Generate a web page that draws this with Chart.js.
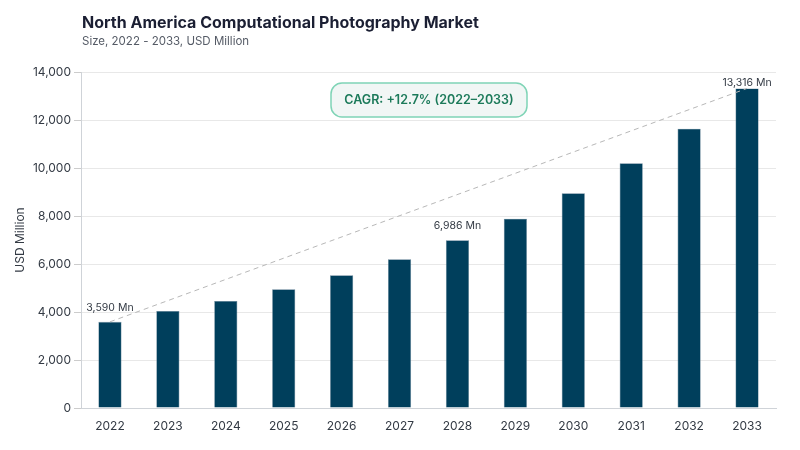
<!DOCTYPE html>
<html>
<head>
<meta charset="utf-8">
<script src="https://cdn.jsdelivr.net/npm/chart.js@4.4.1/dist/chart.umd.min.js"></script>
<style>
html,body{margin:0;padding:0;background:#fff;}
#wrap{position:relative;width:800px;height:450px;}
</style>
</head>
<body>
<div id="wrap"><canvas id="c" width="800" height="450"></canvas></div>
<script>
const titleText = "North America Computational Photography Market";
const subtitleText = "Size, 2022 - 2033, USD Million";
const years = ["2022","2023","2024","2025","2026","2027","2028","2029","2030","2031","2032","2033"];
const marketSize = [3590, 4046, 4458, 4944, 5528, 6194, 6986, 7889, 8944, 10194, 11639, 13316];
const labelledYears = ["2022","2028","2033"];
const trendStartEnd = [3590, 13316];
const cagrText = "CAGR: +12.7% (2022\u20132033)";
const yTicks = [0, 2000, 4000, 6000, 8000, 10000, 12000, 14000];
const yAxisTitle = "USD Million";

const FONT = "Inter, 'DejaVu Sans', sans-serif";

const trendData = years.map((y, i) => i === 0 ? trendStartEnd[0] : (i === years.length - 1 ? trendStartEnd[1] : null));

const overlay = {
  id: 'overlay',
  afterDatasetsDraw(chart) {
    const ctx = chart.ctx;
    const area = chart.chartArea;
    const meta = chart.getDatasetMeta(1);
    ctx.save();
    ctx.font = "10.5px " + FONT;
    ctx.fillStyle = "#333a44";
    ctx.textAlign = "center";
    ctx.textBaseline = "middle";
    years.forEach((y, i) => {
      if (!labelledYears.includes(y)) return;
      const bar = meta.data[i];
      let ty = bar.y - 14;
      if (ty < area.top + 11) ty = area.top + 11;
      ctx.fillText(marketSize[i].toLocaleString('en-US') + " Mn", bar.x, ty);
    });
    const bx = 331, by = 83, bw = 196, bh = 34, r = 11;
    ctx.beginPath();
    ctx.roundRect(bx, by, bw, bh, r);
    ctx.fillStyle = "#f1f6f5";
    ctx.fill();
    ctx.lineWidth = 1.5;
    ctx.strokeStyle = "#7fd4b6";
    ctx.stroke();
    ctx.fillStyle = "#1c7a5a";
    ctx.font = "600 12.5px " + FONT;
    ctx.fillText(cagrText, bx + bw / 2, by + bh / 2 + 0.5);
    ctx.restore();
  },
  beforeDraw(chart) {
    const ctx = chart.ctx;
    ctx.save();
    ctx.fillStyle = "#ffffff";
    ctx.fillRect(0, 0, chart.width, chart.height);
    ctx.textAlign = "left";
    ctx.textBaseline = "alphabetic";
    ctx.fillStyle = "#1b1f33";
    ctx.font = "bold 16px " + FONT;
    ctx.fillText(titleText, 82, 28);
    ctx.fillStyle = "#555b66";
    ctx.font = "11.5px " + FONT;
    ctx.fillText(subtitleText, 82, 45);
    ctx.restore();
  }
};

new Chart(document.getElementById('c'), {
  data: {
    labels: years,
    datasets: [
      {
        type: 'line',
        data: trendData,
        spanGaps: true,
        borderColor: '#b8b8b8',
        borderWidth: 1,
        borderDash: [5, 4],
        pointRadius: 0,
        fill: false,
        order: 0
      },
      {
        type: 'bar',
        data: marketSize,
        backgroundColor: '#003f5c',
        borderColor: '#5f7f93',
        borderWidth: 0.6,
        categoryPercentage: 1,
        barPercentage: 0.4,
        order: 1
      }
    ]
  },
  options: {
    responsive: false,
    animation: false,
    devicePixelRatio: 1,
    layout: { padding: { top: 72, right: 24, bottom: 0, left: 13 } },
    plugins: { legend: { display: false }, tooltip: { enabled: false } },
    scales: {
      x: {
        grid: { display: false, drawTicks: false },
        border: { display: true, color: '#cfd3d8', width: 1 },
        ticks: { color: '#333a44', font: { family: FONT, size: 12 }, padding: 11, maxRotation: 0 },
        afterFit(s) { s.height = 42; }
      },
      y: {
        min: 0, max: 14000,
        afterBuildTicks(s) { s.ticks = yTicks.map(v => ({ value: v })); },
        grid: { color: '#e8e8e8', lineWidth: 1, tickLength: 7, tickColor: '#cccccc' },
        border: { display: true, color: '#cfd3d8', width: 1 },
        ticks: {
          color: '#333a44', font: { family: FONT, size: 12 }, padding: 3,
          callback: v => v.toLocaleString('en-US')
        },
        title: { display: true, text: yAxisTitle, color: '#333a44', font: { family: FONT, size: 12 }, padding: { top: 0, bottom: 4 } },
        afterFit(s) { s.width = 68; }
      }
    }
  },
  plugins: [overlay]
});
</script>
</body>
</html>
